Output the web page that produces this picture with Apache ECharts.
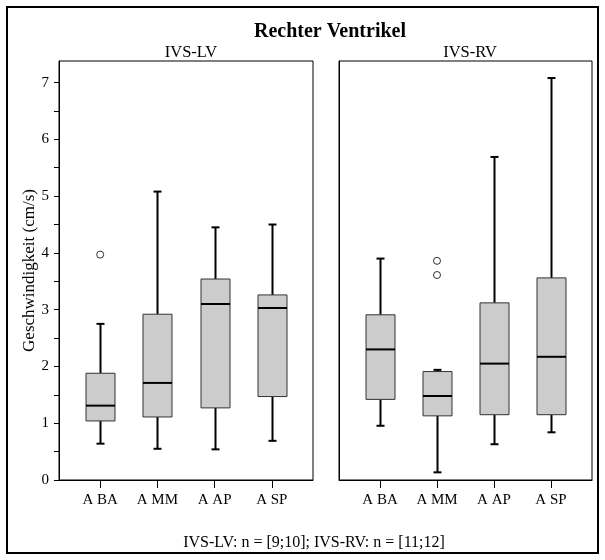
<!DOCTYPE html>
<html>
<head>
<meta charset="utf-8">
<script src="https://cdn.jsdelivr.net/npm/echarts@6/dist/echarts.min.js"></script>
<style>html,body{margin:0;padding:0;background:#fff}#c{width:605px;height:560px}</style>
</head>
<body>
<div id="c"></div>
<script>
// ---- data ----
const categories = ['A BA', 'A MM', 'A AP', 'A SP'];
const yTickLabels = [0, 1, 2, 3, 4, 5, 6, 7];
const yMinorTicks = [0, 0.5, 1, 1.5, 2, 2.5, 3, 3.5, 4, 4.5, 5, 5.5, 6, 6.5, 7];

const lvMin = [0.64, 0.55, 0.54, 0.69];
const lvQ1  = [1.04, 1.11, 1.27, 1.47];
const lvMed = [1.31, 1.71, 3.10, 3.03];
const lvQ3  = [1.88, 2.92, 3.54, 3.26];
const lvMax = [2.75, 5.08, 4.45, 4.50];
const lvOutliers = [[0, 3.97]];

const rvMin = [0.955, 0.135, 0.63, 0.84];
const rvQ1  = [1.42, 1.13, 1.15, 1.15];
const rvMed = [2.30, 1.48, 2.05, 2.17];
const rvQ3  = [2.91, 1.91, 3.12, 3.56];
const rvMax = [3.90, 1.94, 5.69, 7.08];
const rvOutliers = [[1, 3.86], [1, 3.61]];

// ---- build ----
function boxRows(mn, q1, md, q3, mx) {
  return categories.map((c, i) => [i, mn[i], q1[i], md[i], q3[i], mx[i]]);
}
const BOX_W = 29, CAP_W = 8;
const FONT = '"Liberation Serif", "Times New Roman", serif';

function renderBox(params, api) {
  const x = api.value(0);
  const pMin = api.coord([x, api.value(1)]);
  const pQ1 = api.coord([x, api.value(2)]);
  const pMd = api.coord([x, api.value(3)]);
  const pQ3 = api.coord([x, api.value(4)]);
  const pMax = api.coord([x, api.value(5)]);
  const cx = Math.round(pMin[0]) + 0.5;
  const h = BOX_W / 2, c = CAP_W / 2;
  const ws = { stroke: '#000', lineWidth: 2 };
  return {
    type: 'group',
    children: [
      { type: 'line', shape: { x1: cx, y1: pQ1[1], x2: cx, y2: pMin[1] }, style: ws },
      { type: 'line', shape: { x1: cx - c, y1: pMin[1], x2: cx + c, y2: pMin[1] }, style: ws },
      { type: 'line', shape: { x1: cx, y1: pQ3[1], x2: cx, y2: pMax[1] }, style: ws },
      { type: 'line', shape: { x1: cx - c, y1: pMax[1], x2: cx + c, y2: pMax[1] }, style: ws },
      { type: 'rect', shape: { x: cx - h, y: pQ3[1], width: BOX_W, height: pQ1[1] - pQ3[1] },
        style: { fill: '#cccccc', stroke: '#333', lineWidth: 1 } },
      { type: 'line', shape: { x1: cx - h, y1: pMd[1], x2: cx + h, y2: pMd[1] },
        style: { stroke: '#000', lineWidth: 2 } }
    ]
  };
}

function xAxis(idx) {
  return {
    type: 'value', gridIndex: idx, min: -0.72, max: 3.72,
    axisLine: { show: true, onZero: false, lineStyle: { color: '#000', width: 1 } },
    axisTick: { show: true, length: 8, customValues: [0, 1, 2, 3], lineStyle: { color: '#000', width: 1 } },
    axisLabel: { customValues: [0, 1, 2, 3], formatter: v => categories[Math.round(v)],
      color: '#000', fontFamily: FONT, fontSize: 15, margin: 13 },
    splitLine: { show: false }
  };
}
function yAxis(idx, labels) {
  return {
    type: 'value', gridIndex: idx, min: 0, max: 7.38,
    name: labels ? 'Geschwindigkeit (cm/s)' : '',
    nameLocation: 'middle', nameGap: 21,
    nameTextStyle: { color: '#000', fontFamily: FONT, fontSize: 17 },
    axisLine: { show: true, onZero: false, lineStyle: { color: '#000', width: 1 } },
    axisTick: { show: labels, length: 5, customValues: yMinorTicks, lineStyle: { color: '#000', width: 1 } },
    axisLabel: { show: labels, customValues: yTickLabels, color: '#000', fontFamily: FONT, fontSize: 15, margin: 10 },
    splitLine: { show: false }
  };
}

const chart = echarts.init(document.getElementById('c'), null, { renderer: 'canvas' });
chart.setOption({
  backgroundColor: '#fff',
  animation: false,
  title: [
    { text: 'Rechter Ventrikel', left: 325, top: 17, textAlign: 'center',
      textStyle: { fontFamily: FONT, fontSize: 20, fontWeight: 'bold', color: '#000' } },
    { text: 'IVS-LV', left: 186, top: 39, textAlign: 'center',
      textStyle: { fontFamily: FONT, fontSize: 16.5, fontWeight: 'normal', color: '#000' } },
    { text: 'IVS-RV', left: 465, top: 39, textAlign: 'center',
      textStyle: { fontFamily: FONT, fontSize: 16.5, fontWeight: 'normal', color: '#000' } },
    { text: 'IVS-LV: n = [9;10]; IVS-RV: n = [11;12]', left: 309, top: 530, textAlign: 'center',
      textStyle: { fontFamily: FONT, fontSize: 16, fontWeight: 'normal', color: '#000' } }
  ],
  grid: [
    { left: 59, top: 61, width: 254, height: 419, show: true, borderColor: '#000', borderWidth: 1, backgroundColor: 'transparent' },
    { left: 339, top: 61, width: 253, height: 419, show: true, borderColor: '#000', borderWidth: 1, backgroundColor: 'transparent' }
  ],
  xAxis: [xAxis(0), xAxis(1)],
  yAxis: [yAxis(0, true), yAxis(1, false)],
  graphic: [
    { type: 'rect', shape: { x: 7, y: 7, width: 591, height: 546 },
      style: { fill: null, stroke: '#000', lineWidth: 2 }, z: 100 }
  ],
  series: [
    { type: 'custom', xAxisIndex: 0, yAxisIndex: 0, renderItem: renderBox,
      encode: { x: 0, y: [1, 2, 3, 4, 5] }, data: boxRows(lvMin, lvQ1, lvMed, lvQ3, lvMax) },
    { type: 'custom', xAxisIndex: 1, yAxisIndex: 1, renderItem: renderBox,
      encode: { x: 0, y: [1, 2, 3, 4, 5] }, data: boxRows(rvMin, rvQ1, rvMed, rvQ3, rvMax) },
    { type: 'scatter', xAxisIndex: 0, yAxisIndex: 0, data: lvOutliers, symbol: 'circle', symbolSize: 7,
      itemStyle: { color: '#fff', borderColor: '#000', borderWidth: 1 } },
    { type: 'scatter', xAxisIndex: 1, yAxisIndex: 1, data: rvOutliers, symbol: 'circle', symbolSize: 7,
      itemStyle: { color: '#fff', borderColor: '#000', borderWidth: 1 } }
  ]
});
</script>
</body>
</html>
